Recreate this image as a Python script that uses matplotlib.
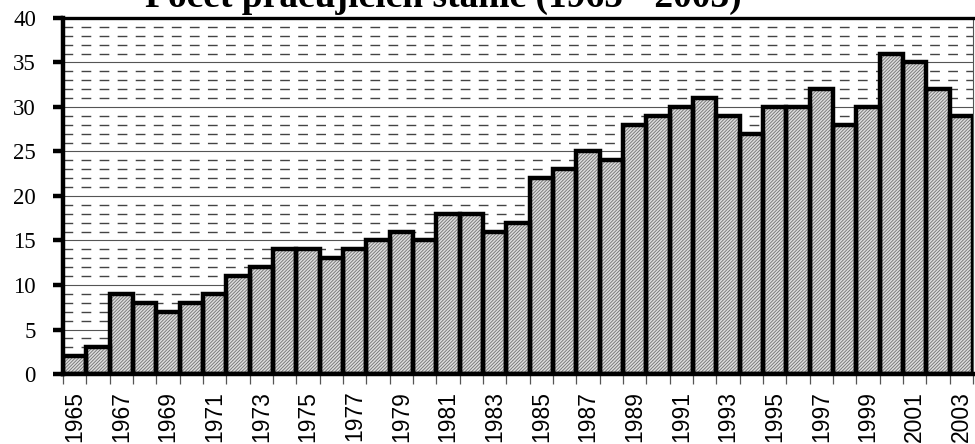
import matplotlib.pyplot as plt
import numpy as np

# Roky a počty pracujících stanic
years = list(range(1965, 2004))
counts = [2, 3, 9, 8, 7, 8, 9, 11, 12, 14, 14, 13, 14, 15, 16, 15, 18, 18, 16, 17,
          22, 23, 25, 24, 28, 29, 30, 31, 29, 27, 30, 30, 32, 28, 30, 36, 35, 32, 29]
tick_years = years[::2]
title = "Počet pracujících stanic (1965 - 2003)"

plt.rcParams["hatch.linewidth"] = 0.6

fig = plt.figure(figsize=(9.75, 4.44), dpi=100)
ax = fig.add_axes([63 / 975, 1 - 374 / 444, 910 / 975, 356 / 444])

x = np.arange(len(years))

# Mřížka: plné čáry po 5, čárkované po 1
for v in range(1, 40):
    if v % 5 == 0:
        ax.axhline(v, color="#555555", linewidth=0.8, zorder=0)
    else:
        ax.axhline(v, color="#444444", linewidth=1.0, linestyle=(0, (7, 6)), zorder=0)

# Sloupce: šrafovaná výplň a silný obrys
ax.bar(x, counts, width=1.0, align="edge", color="#dcdcdc", edgecolor="#707070",
       hatch="//////////", linewidth=0, zorder=2)
ax.bar(x, counts, width=1.0, align="edge", fill=False, edgecolor="black",
       linewidth=3.2, zorder=3)

ax.set_xlim(0, len(years))
ax.set_ylim(0, 40)

ax.set_yticks(range(0, 41, 5))
ax.set_yticklabels([str(v) for v in range(0, 41, 5)], family="Liberation Serif", fontsize=16.5)
ax.tick_params(axis="y", length=7.5, width=3.2, pad=12, direction="out")

ax.set_xticks(np.arange(len(years) + 1), minor=False)
ax.set_xticklabels([])
ax.set_xticks(np.arange(0, len(years), 2) + 0.5, minor=True)
ax.set_xticklabels([str(y) for y in tick_years], minor=True, rotation=90,
                   family="Liberation Sans", fontsize=16.5)
ax.tick_params(axis="x", which="major", length=7, width=0.9, color="#555555")
ax.tick_params(axis="x", which="minor", length=0, pad=12)

for side in ["left", "bottom", "top"]:
    ax.spines[side].set_linewidth(3.2)
ax.spines["top"].set_linewidth(2.4)
ax.spines["right"].set_linewidth(0.8)
ax.spines["right"].set_color("#555555")

fig.text(443 / 975, 1 - 7 / 444, title, ha="center", va="baseline",
         family="Liberation Serif", fontweight="bold", fontsize=27)

fig.savefig("out.png", dpi=100)
